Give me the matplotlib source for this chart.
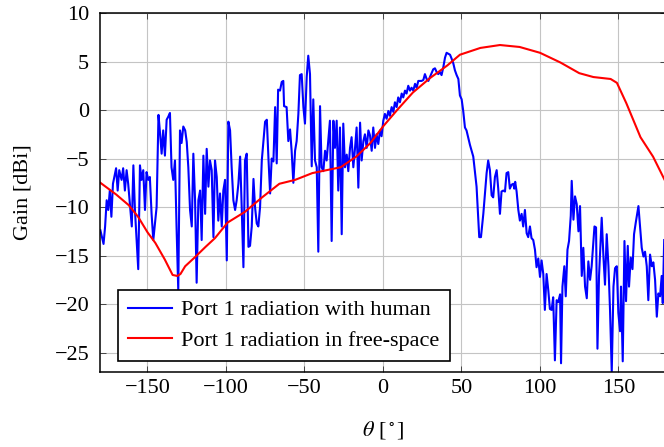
import numpy as np
import matplotlib
matplotlib.use("Agg")
from matplotlib import pyplot as plt

plt.rcParams['font.family'] = 'serif'
plt.rcParams['font.serif'] = ['Liberation Serif', 'DejaVu Serif']
plt.rcParams['mathtext.fontset'] = 'stix'
plt.rcParams['font.size'] = 16

# Port 1 radiation with human
theta_human = [
    -180, -178, -177, -176, -175, -174, -173, -172, -170, -169, -168, -166.5,
    -165.5, -164.4, -163.3, -162.3, -160, -159, -158, -155.9, -154.8, -153.8,
    -152.7, -151.6, -150.6, -149.5, -148.5, -147.4, -146.3, -144.2, -143, -142,
    -141, -140, -138.9, -137.8, -136.8, -135.7, -134.7, -133.6, -132.5, -131.5,
    -130.4, -129.3, -128.3, -127.2, -126, -125, -124, -122.9, -121.8, -120.8,
    -119.7, -118.7, -117.6, -116.5, -115.5, -114.4, -113.3, -112.3, -111.2,
    -110.2, -109.1, -108, -107, -105.9, -104.9, -103.8, -102.7, -101.7, -100.6,
    -99.5, -98.5, -97.4, -96.4, -95.3, -94.2, -93.2, -92.1, -91, -90, -88.9,
    -87.9, -86.8, -85.7, -84.7, -83.6, -82.5, -81.5, -80.4, -79.4, -78.3, -77.2,
    -75.1, -74, -72.9, -71.9, -70.9, -69.8, -68.7, -67.7, -66.8, -65.6, -64.5,
    -63.5, -63, -61.4, -60.3, -59.2, -58.2, -57.1, -56, -55, -53.9, -52.9, -51.8,
    -50.7, -49.7, -48.6, -47.6, -46.5, -45.4, -44.4, -43.3, -42.2, -41.2, -40.1,
    -39.1, -38, -36.9, -35.9, -34.8, -33.8, -32.7, -31.6, -30.6, -29.5, -28.5,
    -27.4, -26.3, -25.3, -24.2, -23.1, -22.1, -21, -20, -18.9, -17.8, -16.8,
    -15.7, -14.6, -13.6, -12.5, -11.5, -10.4, -9.3, -8.3, -7.2, -6.2, -5.1, -4.1,
    -3, -1.9, -0.9, 0.2, 1.2, 2.3, 3.4, 4.4, 5.5, 6.6, 7.6, 8.7, 9.7, 10.8, 11.9,
    12.9, 14, 15, 16.1, 17.2, 18.2, 19.3, 20.4, 21.4, 22.5, 24.6, 25.7, 26.7,
    27.8, 28.9, 29.9, 32, 33.1, 34.2, 35.2, 36.3, 37.3, 38.4, 39.5, 40.5, 41.6,
    42.7, 43.7, 44.8, 45.8, 46.9, 48, 49, 50.1, 51.1, 52.2, 53.2, 55.4, 57.5,
    59.6, 61.3, 62.4, 63.9, 66, 67, 68.1, 69.2, 70.2, 71.3, 72.4, 73.4, 74.5,
    75.5, 76.6, 77.7, 78.7, 79.8, 80.8, 81.9, 83, 83.6, 84.2, 85.1, 86.2, 87.2,
    88.3, 89.3, 90.4, 91.5, 92.5, 93.6, 94.6, 95.7, 96.8, 97.8, 98.9, 100, 101,
    102.1, 103.1, 104.2, 105.3, 106.3, 107.4, 108.4, 109.5, 110.6, 111.6, 112.8,
    113.4, 114.3, 115.5, 116.4, 117.5, 118.5, 119.6, 120.2, 121.3, 122.3, 123.4,
    124.5, 125.5, 126.6, 127.6, 128.7, 129.8, 130.8, 131.9, 132.9, 134.7, 135.7,
    136.6, 137.6, 139.3, 140.4, 141.4, 142.5, 143.6, 144.6, 145.7, 146.8, 147.8,
    148.9, 149.9, 151, 151.6, 152.7, 153.8, 154.8, 155.9, 156.7, 157.8, 158.9,
    159.9, 161, 162.7, 163.7, 164.8, 165.9, 166.9, 168, 169, 170.1, 171.2, 172.2,
    173.3, 174.4, 175.4, 176.5, 177.5, 178.2, 179.1,
]
gain_human = [
    -12.4, -13.8, -12, -9.3, -10.3, -8.3, -11, -7.6, -6, -8.3, -6.2, -7.2,
    -6, -8.3, -6.2, -7.6, -12, -5.7, -10.3, -16.4, -5.7, -7.2,
    -6.2, -10.3, -6.4, -7.2, -6.9, -10.7, -13.4, -10, -0.5, -2.4,
    -4.5, -2.1, -4.7, -1, -0.7, -0.3, -5.9, -7.2, -5.2, -12,
    -18.6, -2.1, -3.4, -1.7, -2.1, -3.3, -5.9, -10.3, -12, -4.5,
    -9.3, -17.8, -9.3, -8.3, -13.4, -4.7, -10.7, -4, -7.9,
    -5.2, -6.2, -13.1, -5.2, -6.9, -11.4, -8.6, -12, -8.3, -7.2,
    -15.5, -1.2, -2.1, -5.9, -9.3, -10.3, -9.3, -7.6, -4.8, -10, -16.2,
    -5.2, -4.5, -14.1, -14, -12, -7.1, -10, -11.7, -12, -10, -5.2,
    -1.2, -1, -5.2, -8.6, -5, -5.3, 0.3, -5.5, 2.1, 2.0, 2.9,
    3.0, 0.4, 0.3, -3.2, -2, -4.2, -7.5, -4.2, -3.2, -0.4, 3.6, 3.7,
    0.3, -1.4, 3.4, 5.6, 3.7, -5.8, 1.1, -5.2, -5.9, -14.6, 0.4,
    -5.9, -6.3, -4.2, -5.2, -3, -1.1, -13.5, -1.1, -3.9, -1.1, -8.3,
    -1.8, -12.8, -1.4, -5.9, -4.6, -6.3, -3.9, -2.8, -5.9, -3.9, -1.8,
    -8, -1.3, -5.2, -3.2, -2.5, -3.9, -2.1, -2.6, -4.2, -1.8, -3.9, -2.5,
    -3.5, -2.1, -2.7, -1.1, -0.4, -0.9, -0.1, -0.6, 0.3, -0.2, 0.8, 0.3, 1.3, 0.8, 1.7,
    1.3, 2, 1.7, 2.5, 2, 2.3, 2, 2.7, 2.3, 3, 3, 3.1, 3.7,
    3.2, 3, 3.4, 4.2, 4.3, 3.9, 3.7, 3.9, 3.6, 4.4, 5.4, 5.9, 5.8,
    5.7, 5.3, 4.8, 4.1, 3.6, 3.2, 1.5, 1.1, -0.1, -1.8, -2.1, -3.6, -4.8,
    -7.9, -13.1, -13.1, -10.7, -6.5, -5.2, -6.2, -8.8, -9, -6.9, -6.2, -8.1, -10.7,
    -8.4, -8.3, -8.4, -6.5, -6.4, -8.1, -7.7, -7.6, -8.1, -7.4, -8.4, -10.3, -11.4,
    -10.7, -12, -10.3, -12.7, -13.1, -12, -13.2, -13.4, -14.4, -16.2, -15.3, -17.2, -15.5,
    -16.9, -20.6, -16.9, -18.6, -20.5, -20.6, -19.3, -25.8, -19.6, -19.8, -19,
    -26.1, -18.2, -16.1, -19.2, -14.4, -13.5, -10.9, -7.3, -11.3, -8.9, -9.7,
    -12.5, -9.9, -17.1, -14.2, -18.2, -19.4, -15.6, -17.5, -16.1, -12, -12.1,
    -24.6, -17.1, -11.1, -15.1, -18, -12.8, -16.1, -20.6, -27, -18.2, -16.3,
    -16.1, -20.9, -22.8, -18.2, -25.9, -13.5, -19.7, -14, -18.2, -15.2, -16.4,
    -12.8, -11.6, -9.9, -12, -14.2, -15.1, -14.6, -16.1, -19.6, -14.9, -16.1, -15.7,
    -17.5, -21.3, -18.9, -19.2, -17.1, -19.9, -13.4,
]

# Port 1 radiation in free-space
theta_free = [-180, -170, -162, -156, -150, -145, -139, -134, -131, -129, -126,
              -120, -113, -107, -99, -88, -77, -66, -56, -45, -27, -17, -8, 0,
              9, 19, 30, 41, 49, 62, 74.5, 87, 100, 113, 125, 134, 145, 149,
              155, 164, 172, 180]
gain_free = [-7.5, -8.7, -9.8, -11, -12.6, -13.7, -15.4, -17, -17.1, -16.9, -16.1,
             -15.2, -14.1, -13.2, -11.6, -10.5, -9.0, -7.6, -7.2, -6.5, -5.9, -4.8,
             -3.4, -1.7, 0.0, 1.8, 3.3, 4.6, 5.7, 6.4, 6.7, 6.5, 5.9, 4.9, 3.8, 3.4,
             3.2, 2.8, 0.7, -2.8, -4.8, -7.4]

fig = plt.figure(figsize=(6.64, 4.47), dpi=100)
ax = fig.add_axes([0.1512, 0.1678, 0.8512, 0.8031])

ax.plot(theta_human, gain_human, color='blue', lw=1.5,
        label='Port 1 radiation with human')
ax.plot(theta_free, gain_free, color='red', lw=1.5,
        label='Port 1 radiation in free-space')

ax.set_xlim(-180, 180)
ax.set_ylim(-27, 10)
ax.set_xticks([-150, -100, -50, 0, 50, 100, 150])
ax.set_yticks([-25, -20, -15, -10, -5, 0, 5, 10])
ax.grid(True, color='#c4c4c4', lw=0.8)
ax.set_axisbelow(True)
ax.tick_params(direction='in', top=True, right=True, length=4, width=0.7,
               color='#444444')
ax.tick_params(axis='x', pad=5)
ax.tick_params(axis='y', pad=8)
for s in ax.spines.values():
    s.set_linewidth(1.1)

ax.set_xlabel(r'$\theta$ [$^\circ$]')
ax.set_ylabel('Gain [dBi]')
ax.xaxis.set_label_coords(0.5, -0.13)
ax.yaxis.set_label_coords(-0.12, 0.5)

leg = ax.legend(loc='lower left', bbox_to_anchor=(0.031, 0.031), borderaxespad=0,
                fancybox=False, framealpha=1, edgecolor='black',
                handlelength=2.0, handletextpad=0.4, labelspacing=0.45,
                borderpad=0.45)
leg.get_frame().set_linewidth(1.2)

fig.savefig('out.png', dpi=100)
